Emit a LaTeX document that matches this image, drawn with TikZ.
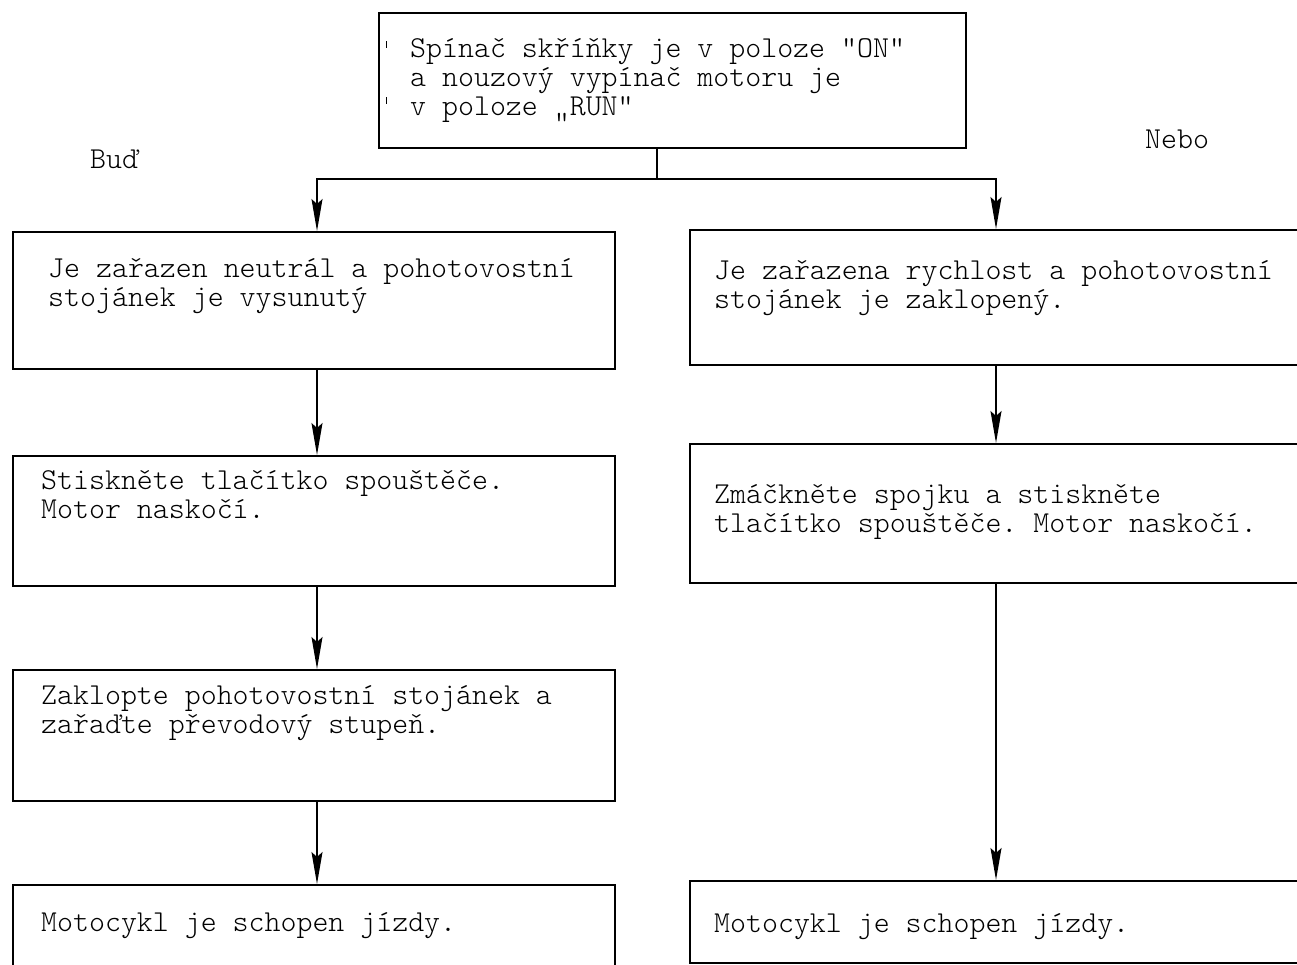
\documentclass[tikz,border=0pt]{standalone}
\usepackage{fontspec}
\setmonofont{Latin Modern Mono Light}
\usetikzlibrary{arrows.meta,calc}
\begin{document}
\begin{tikzpicture}[x=1pt,y=-1pt,
  box/.style={draw, line width=1.9pt, rectangle, inner sep=0pt, anchor=north west},
  txt/.style={font=\ttfamily\fontsize{30.4}{29}\selectfont, align=left, inner sep=0pt, anchor=north west},
  lbl/.style={font=\ttfamily\fontsize{30.4}{29}\selectfont, inner sep=0pt, anchor=base west},
  conn/.style={line width=1.5pt},
  arr/.style={conn, -{Stealth[length=32pt,width=11pt,inset=5pt]}}]
\useasboundingbox (0,0) rectangle (1297,964);
% positions of the vertical connectors
\coordinate (stem) at (657,0);
\coordinate (Lx) at (317,0);
\coordinate (Rx) at (996,0);
% top box
\node[box, minimum width=587pt, minimum height=135pt] (T) at (378,12) {};
\node[txt] (Tt) at (410,31) {\rule{0pt}{26pt}Spínač skříňky je v poloze "ON“\\a nouzový vypínač motoru je\\v poloze „RUN“};
\draw[line width=1pt] (386,41) -- (386,48);
\draw[line width=1pt] (386,97) -- (386,104);
% branch labels
\node[lbl] (bud) at (90,168) {Buď};
\node[lbl] (nebo) at (1145,148) {Nebo};
% left column
\node[box, minimum width=602pt, minimum height=137pt] (L1) at (12,231) {};
\node[txt] (L1t) at (48,251) {\rule{0pt}{26pt}Je zařazen neutrál a pohotovostní\\stojánek je vysunutý};
\node[box, minimum width=602pt, minimum height=130pt] (L2) at (12,455) {};
\node[txt] (L2t) at (41,463) {\rule{0pt}{26pt}Stiskněte tlačítko spouštěče.\\Motor naskočí.};
\node[box, minimum width=602pt, minimum height=131pt] (L3) at (12,669) {};
\node[txt] (L3t) at (41,678) {\rule{0pt}{26pt}Zaklopte pohotovostní stojánek a\\zařaďte převodový stupeň.};
\node[box, minimum width=602pt, minimum height=140pt] (L4) at (12,884) {};
\node[lbl] (L4t) at (41,931) {Motocykl je schopen jízdy.};
% right column
\node[box, minimum width=640pt, minimum height=135pt] (R1) at (689,229) {};
\node[txt] (R1t) at (714,253) {\rule{0pt}{26pt}Je zařazena rychlost a pohotovostní\\stojánek je zaklopený.};
\node[box, minimum width=640pt, minimum height=139pt] (R2) at (689,443) {};
\node[txt] (R2t) at (714,477) {\rule{0pt}{26pt}Zmáčkněte spojku a stiskněte\\tlačítko spouštěče. Motor naskočí.};
\node[box, minimum width=640pt, minimum height=82pt] (R4) at (689,880) {};
\node[lbl] (R4t) at (714,932) {Motocykl je schopen jízdy.};
% connectors
\draw[arr] (T.south -| stem) -- ++(0,30) -| (L1.north -| Lx);
\draw[arr] (T.south -| stem) -- ++(0,30) -| (R1.north -| Rx);
\draw[arr] (L1.south -| Lx) -- (L2.north -| Lx);
\draw[arr] (L2.south -| Lx) -- (L3.north -| Lx);
\draw[arr] (L3.south -| Lx) -- (L4.north -| Lx);
\draw[arr] (R1.south -| Rx) -- (R2.north -| Rx);
\draw[arr] (R2.south -| Rx) -- (R4.north -| Rx);
\end{tikzpicture}
\end{document}
